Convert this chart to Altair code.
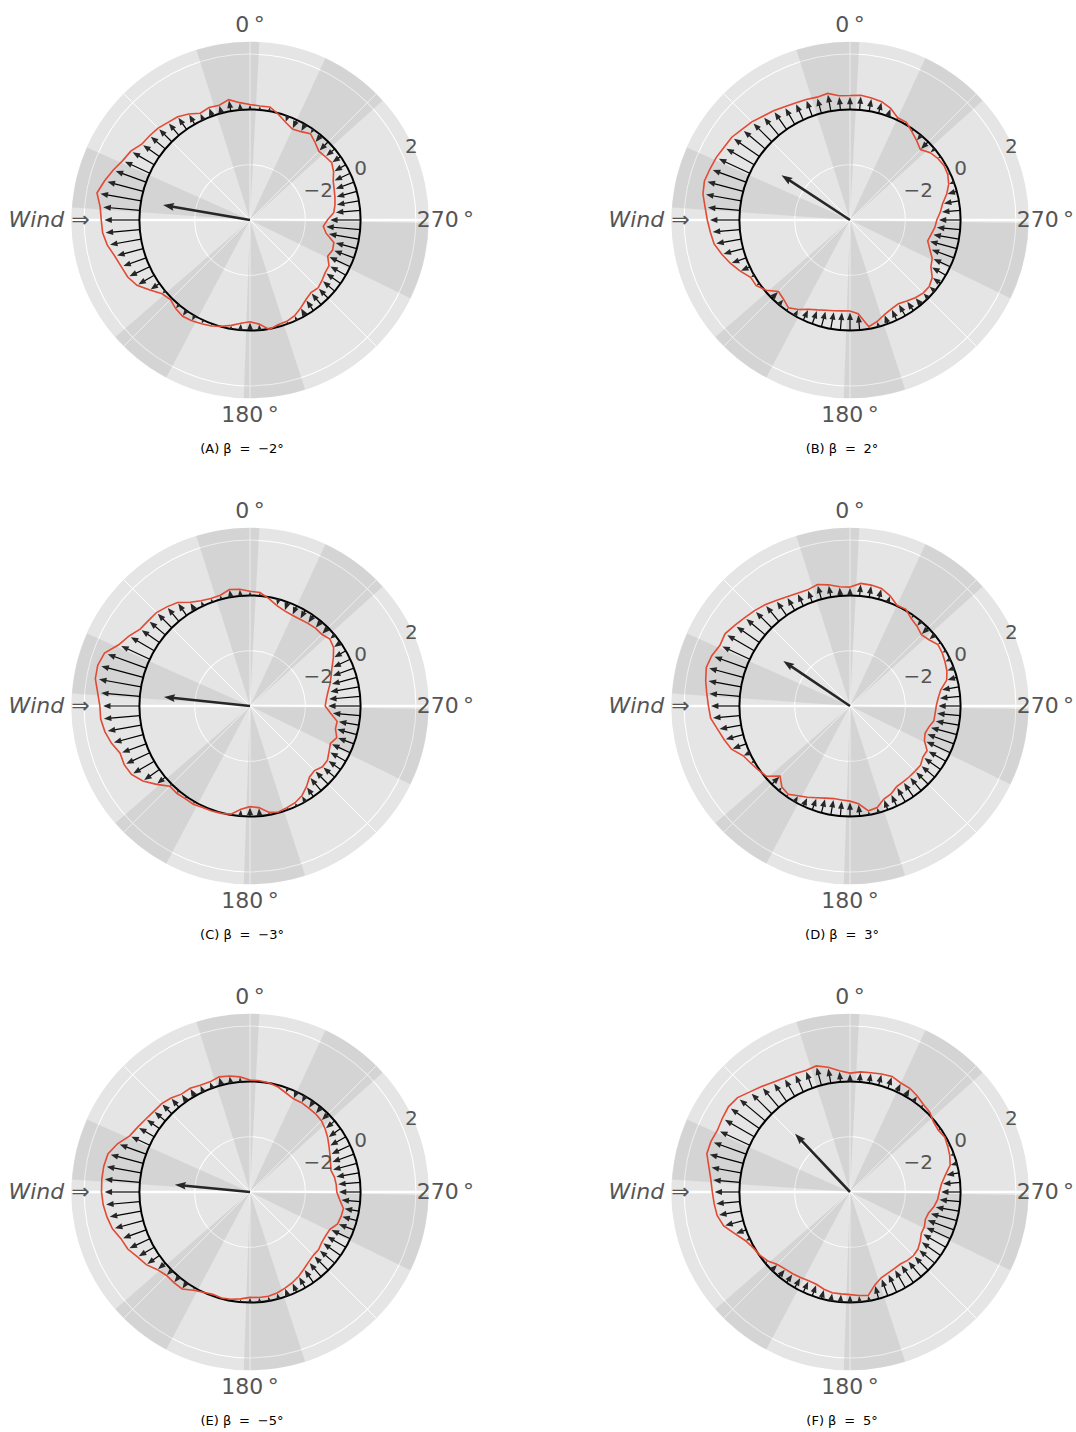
import altair as alt
import pandas as pd

# ---------------------------------------------------------------------------
# Polar frame shared by all six panels
# ---------------------------------------------------------------------------
R_CENTRE = -4.0           # radial value drawn at the centre of the disc
R_EDGE = 2.45             # radial value at the rim of the disc
PX = 27.65                # pixels per radial unit
CENTRE_X, CENTRE_Y = 250, 220   # disc centre inside a panel, pixels
PANEL_W, PANEL_H = 476, 460
ARROW_SCALE = 0.92        # length of the quiver arrows relative to the profile
HEAD_LEN = 7.5            # pixels
MEAN_HEAD_LEN = 11.0      # pixels

RC = -R_CENTRE
RHO_EDGE = R_EDGE - R_CENTRE

# angle measured counter-clockwise from the top (0 deg at top, 90 deg = wind side)
ANGLES = list(range(0, 360, 5))

PROFILE_A = [
    0.18, 0.26, 0.42, 0.30, 0.33, 0.26, 0.43, 0.56, 0.61, 0.70, 0.74, 0.78,
    0.98, 1.08, 1.27, 1.45, 1.62, 1.44, 1.38, 1.35, 1.24, 1.06, 0.95, 0.88,
    0.72, 0.42, 0.15, 0.07, 0.18, 0.25, 0.21, 0.14, 0.08, -0.02, -0.13, -0.25,
    -0.32, -0.22, 0.02, -0.08, -0.10, -0.18, -0.33, -0.48, -0.57, -0.52, -0.60, -0.68,
    -0.70, -0.90, -0.82, -0.86, -1.20, -1.34, -1.20, -0.96, -0.88, -0.82, -0.76, -0.68,
    -0.51, -0.39, -0.44, -0.48, -0.34, -0.19, -0.31, -0.37, -0.24, -0.04, 0.15, 0.14,
]
PROFILE_B = [
    0.50, 0.51, 0.65, 0.60, 0.64, 0.67, 0.73, 0.82, 0.90, 1.02, 1.10, 1.22,
    1.26, 1.34, 1.39, 1.45, 1.40, 1.26, 1.16, 1.07, 0.99, 0.80, 0.60, 0.38,
    0.15, 0.14, -0.05, -0.34, -0.26, -0.12, -0.26, -0.44, -0.54, -0.62, -0.67, -0.70,
    -0.71, -0.60, -0.08, -0.20, -0.36, -0.45, -0.50, -0.42, -0.33, -0.26, -0.26, -0.37,
    -0.62, -0.72, -0.93, -1.09, -1.02, -0.92, -0.86, -0.72, -0.60, -0.38, -0.20, -0.10,
    -0.07, -0.12, -0.21, -0.40, -0.25, -0.10, 0.08, 0.08, 0.30, 0.43, 0.48, 0.53,
]
PROFILE_C = [
    0.15, 0.24, 0.28, 0.15, 0.14, 0.20, 0.33, 0.57, 0.68, 0.78, 0.80, 0.85,
    1.06, 1.24, 1.60, 1.70, 1.68, 1.53, 1.43, 1.42, 1.33, 1.19, 1.00, 1.02,
    0.95, 0.73, 0.41, 0.10, 0.12, 0.09, 0.10, 0.05, 0.04, 0.02, -0.03, -0.25,
    -0.36, -0.31, -0.10, -0.03, -0.09, -0.14, -0.25, -0.44, -0.65, -0.70, -0.58, -0.58,
    -0.70, -0.79, -0.66, -0.80, -0.80, -1.08, -1.28, -1.23, -1.14, -1.01, -0.88, -0.73,
    -0.52, -0.31, -0.23, -0.33, -0.32, -0.35, -0.38, -0.38, -0.34, -0.24, -0.06, 0.12,
]
PROFILE_D = [
    0.30, 0.33, 0.45, 0.55, 0.47, 0.50, 0.56, 0.66, 0.78, 0.88, 0.97, 1.09,
    1.22, 1.19, 1.32, 1.38, 1.30, 1.20, 1.12, 1.06, 0.86, 0.71, 0.56, 0.26,
    0.14, 0.04, -0.05, -0.42, -0.17, -0.10, -0.25, -0.36, -0.47, -0.55, -0.60, -0.59,
    -0.56, -0.45, -0.15, -0.20, -0.42, -0.49, -0.63, -0.65, -0.66, -0.67, -0.67, -0.78,
    -0.78, -1.03, -1.11, -1.05, -0.92, -0.91, -0.88, -0.80, -0.67, -0.38, -0.27, -0.21,
    -0.15, -0.12, -0.27, -0.35, -0.23, -0.14, 0.04, 0.02, 0.24, 0.40, 0.44, 0.45,
]
PROFILE_E = [
    0.05, 0.18, 0.26, 0.31, 0.24, 0.26, 0.33, 0.32, 0.44, 0.52, 0.54, 0.60,
    0.69, 0.80, 1.10, 1.32, 1.37, 1.38, 1.37, 1.33, 1.25, 1.15, 0.96, 0.88,
    0.70, 0.58, 0.37, 0.27, 0.28, 0.28, 0.10, 0.00, -0.06, -0.03, -0.06, -0.12,
    -0.19, -0.17, -0.17, -0.22, -0.30, -0.38, -0.48, -0.60, -0.70, -0.76, -0.76, -0.83,
    -0.84, -0.81, -0.63, -0.59, -0.57, -0.74, -0.86, -0.87, -0.90, -0.97, -0.90, -0.81,
    -0.70, -0.57, -0.45, -0.35, -0.31, -0.30, -0.27, -0.28, -0.19, -0.07, 0.00, 0.04,
]
PROFILE_F = [
    0.30, 0.40, 0.58, 0.72, 0.68, 0.72, 0.76, 0.85, 0.98, 1.12, 1.31, 1.37,
    1.33, 1.29, 1.35, 1.36, 1.18, 1.05, 0.98, 0.93, 0.88, 0.73, 0.42, 0.17,
    0.04, -0.02, -0.12, -0.29, -0.36, -0.39, -0.43, -0.46, -0.45, -0.36, -0.30, -0.30,
    -0.29, -0.24, -0.20, -0.52, -0.70, -0.76, -0.80, -0.82, -0.77, -0.75, -0.79, -0.90,
    -1.02, -1.03, -1.10, -1.06, -0.92, -0.82, -0.77, -0.68, -0.50, -0.25, -0.16, -0.10,
    -0.04, -0.10, -0.06, 0.08, 0.13, 0.24, 0.33, 0.35, 0.45, 0.42, 0.38, 0.36,
]

PANEL_LETTERS = ["A", "B", "C", "D", "E", "F"]
BETAS = [-2, 2, -3, 3, -5, 5]
PROFILES = [PROFILE_A, PROFILE_B, PROFILE_C, PROFILE_D, PROFILE_E, PROFILE_F]

# resultant arrow of each panel: direction (deg, ccw from top) and length (radial units)
MEAN_DIRECTION = [80.2, 56.8, 84.0, 56.0, 84.4, 43.3]
MEAN_LENGTH = [3.19, 2.96, 3.13, 2.91, 2.73, 2.90]

# shaded sectors (deg, ccw from top)
SECTOR_START = [-3.0, 66.0, 131.0, 178.0, 244.0, 312.0]
SECTOR_END = [17.5, 86.0, 152.0, 198.0, 269.0, 335.0]

GRID_VALUES = [-2, 0, 2]
GRID_LABELS = ["\u22122", "0", "2"]
SPOKES = [0, 45, 135, 180, 225, 315]
AXIS_SPOKES = [90, 270]
THETA_LABELS = ["0\u2009°", "180\u2009°", "270\u2009°"]
THETA_LABEL_ANGLES = [0, 180, 270]

TEXT_GREY = "#555555"

# ---------------------------------------------------------------------------
# scales
# ---------------------------------------------------------------------------
xs = alt.Scale(domain=[-CENTRE_X / PX, (PANEL_W - CENTRE_X) / PX], nice=False, zero=False)
ys = alt.Scale(domain=[-(PANEL_H - CENTRE_Y) / PX, CENTRE_Y / PX], nice=False, zero=False)
ts = alt.Scale(type="linear", domain=[0, 360], range=[0, 6.283185307179586], nice=False, zero=False)
rs = alt.Scale(type="linear", domain=[0, RHO_EDGE], range=[0, RHO_EDGE * PX], nice=False, zero=False)


def xy(rho, theta, xn, yn):
    """Polar (rho, ccw-from-top angle) -> cartesian expressions."""
    return {
        xn: f"-({rho}) * sin(({theta}) * PI / 180)",
        yn: f"({rho}) * cos(({theta}) * PI / 180)",
    }


def X(f):
    return alt.X(f, scale=xs, axis=None)


def Y(f):
    return alt.Y(f, scale=ys, axis=None)


def arc_layer(df, **mark_kw):
    return (
        alt.Chart(df)
        .transform_calculate(cx="0", cy="0", t0="360 - datum.a1", t1="360 - datum.a0")
        .mark_arc(**mark_kw)
        .encode(
            x=X("cx:Q"),
            y=Y("cy:Q"),
            theta=alt.Theta("t0:Q", scale=ts, stack=False),
            theta2="t1:Q",
            radius=alt.Radius("r1:Q", scale=rs),
            radius2="r0:Q",
        )
    )


def ring_df(values, width_px):
    half = width_px / 2 / PX
    return pd.DataFrame({
        "a0": [0.0] * len(values),
        "a1": [360.0] * len(values),
        "r0": [v + RC - half for v in values],
        "r1": [v + RC + half for v in values],
    })


def panel(letter, beta, values, mean_dir, mean_len):
    prof = pd.DataFrame({"theta": ANGLES, "value": values, "k": list(range(len(ANGLES)))})
    loop = pd.concat([prof, prof.iloc[[0]].assign(k=len(ANGLES))], ignore_index=True)

    disk = arc_layer(pd.DataFrame({"a0": [0.0], "a1": [360.0], "r0": [0.0], "r1": [RHO_EDGE]}),
                     color="#E5E5E5")
    grid_rings = arc_layer(ring_df(GRID_VALUES, 1.0), color="white")

    spokes = (
        alt.Chart(pd.DataFrame({"theta": SPOKES}))
        .transform_calculate(xc="0", yc="0", **xy(RHO_EDGE, "datum.theta", "xe", "ye"))
        .mark_rule(color="white", strokeWidth=1)
        .encode(x=X("xc:Q"), y=Y("yc:Q"), x2="xe:Q", y2="ye:Q")
    )
    axis_spokes = (
        alt.Chart(pd.DataFrame({"theta": AXIS_SPOKES}))
        .transform_calculate(xc="0", yc="0", **xy(RHO_EDGE, "datum.theta", "xe", "ye"))
        .mark_rule(color="white", strokeWidth=2.5)
        .encode(x=X("xc:Q"), y=Y("yc:Q"), x2="xe:Q", y2="ye:Q")
    )

    sectors = arc_layer(
        pd.DataFrame({"a0": SECTOR_START, "a1": SECTOR_END,
                      "r0": [0.0] * len(SECTOR_START), "r1": [RHO_EDGE] * len(SECTOR_START)}),
        color="black", opacity=0.07,
    )

    zero_ring = arc_layer(ring_df([0.0], 2.0), color="black")

    # quiver arrows from the zero circle
    arrow_base = alt.Chart(prof).transform_calculate(
        tip=f"datum.value * {ARROW_SCALE}",
        hl=f"min({HEAD_LEN}, abs(datum.tip) * {PX})",
        sgn="datum.value < 0 ? -1 : 1",
        rh=f"{RC} + datum.tip - datum.sgn * datum.hl / 2 / {PX}",
        ang="(360 - datum.theta + (datum.value < 0 ? 180 : 0)) % 360",
        hs="datum.hl * datum.hl",
        **xy(RC, "datum.theta", "x0", "y0"),
        **xy("datum.rh", "datum.theta", "xh", "yh"),
    )
    shafts = arrow_base.mark_rule(color="black", strokeWidth=1.2).encode(
        x=X("x0:Q"), y=Y("y0:Q"), x2="xh:Q", y2="yh:Q"
    )
    heads = arrow_base.mark_point(
        shape="M0,-1L0.8,1L-0.8,1Z", filled=True, color="#262626", opacity=1
    ).encode(
        x=X("xh:Q"), y=Y("yh:Q"),
        angle=alt.Angle("ang:Q", scale=None),
        size=alt.Size("hs:Q", scale=None),
    )

    red = (
        alt.Chart(loop)
        .transform_calculate(rho=f"datum.value + {RC}")
        .transform_calculate(**xy("datum.rho", "datum.theta", "px", "py"))
        .mark_line(color="#E24A33", strokeWidth=1.6)
        .encode(x=X("px:Q"), y=Y("py:Q"), order="k:Q")
    )

    mean = alt.Chart(pd.DataFrame({"theta": [mean_dir], "length": [mean_len]})).transform_calculate(
        xc="0", yc="0",
        rh=f"datum.length - {MEAN_HEAD_LEN} / 2 / {PX}",
        ang="(360 - datum.theta) % 360",
        **xy("datum.rh", "datum.theta", "xh", "yh"),
    )
    mean_shaft = mean.mark_rule(color="#262626", strokeWidth=2.6).encode(
        x=X("xc:Q"), y=Y("yc:Q"), x2="xh:Q", y2="yh:Q"
    )
    mean_head = mean.mark_point(
        shape="M0,-1L0.7,1L0,0.7L-0.7,1Z", filled=True, color="#262626", opacity=1,
        size=MEAN_HEAD_LEN * MEAN_HEAD_LEN,
    ).encode(x=X("xh:Q"), y=Y("yh:Q"), angle=alt.Angle("ang:Q", scale=None))

    theta_text = (
        alt.Chart(pd.DataFrame({"label": THETA_LABELS, "theta": THETA_LABEL_ANGLES}))
        .transform_calculate(**xy(RHO_EDGE + 17 / PX, "datum.theta", "tx", "ty"))
        .mark_text(font="DejaVu Sans", fontSize=22, color=TEXT_GREY, align="center", baseline="middle")
        .encode(x=X("tx:Q"), y=Y("ty:Q"), text="label:N")
    )
    wind_text = (
        alt.Chart(pd.DataFrame({"label": ["Wind \u21d2"], "theta": [90]}))
        .transform_calculate(**xy(RHO_EDGE - 18 / PX, "datum.theta", "tx", "ty"))
        .mark_text(font="DejaVu Sans", fontSize=22, fontStyle="italic", color=TEXT_GREY,
                   align="right", baseline="middle")
        .encode(x=X("tx:Q"), y=Y("ty:Q"), text="label:N")
    )
    radial_text = (
        alt.Chart(pd.DataFrame({"label": GRID_LABELS, "value": GRID_VALUES}))
        .transform_calculate(rho=f"datum.value + {RC} + 3 / {PX}")
        .transform_calculate(**xy("datum.rho", "293.5", "tx", "ty"))
        .mark_text(font="DejaVu Sans", fontSize=20, color=TEXT_GREY, align="left", baseline="alphabetic")
        .encode(x=X("tx:Q"), y=Y("ty:Q"), text="label:N")
    )

    sign = "\u2212" if beta < 0 else ""
    gap = "\u2002\u200a"
    caption = (
        alt.Chart(pd.DataFrame({"label": [f"({letter}) \u03b2{gap}={gap}{sign}{abs(beta)}°"]}))
        .mark_text(font="DejaVu Sans", fontSize=13, color="black", align="center", baseline="middle")
        .encode(x=alt.value(CENTRE_X - 8), y=alt.value(CENTRE_Y + 229), text="label:N")
    )

    return alt.layer(
        disk, grid_rings, spokes, axis_spokes, sectors, zero_ring,
        shafts, heads, red, mean_shaft, mean_head,
        theta_text, wind_text, radial_text, caption,
    ).properties(width=PANEL_W, height=PANEL_H)


panels = [
    panel(l, b, p, d, m)
    for l, b, p, d, m in zip(PANEL_LETTERS, BETAS, PROFILES, MEAN_DIRECTION, MEAN_LENGTH)
]

rows = [alt.hconcat(panels[i], panels[i + 1], spacing=124, bounds="full") for i in range(0, 6, 2)]

chart = (
    alt.vconcat(*rows, spacing=26, bounds="full")
    .properties(padding=0, background="white")
    .configure_view(stroke=None)
)

chart.save("out.html", embed_options={"renderer": "svg", "actions": False})
